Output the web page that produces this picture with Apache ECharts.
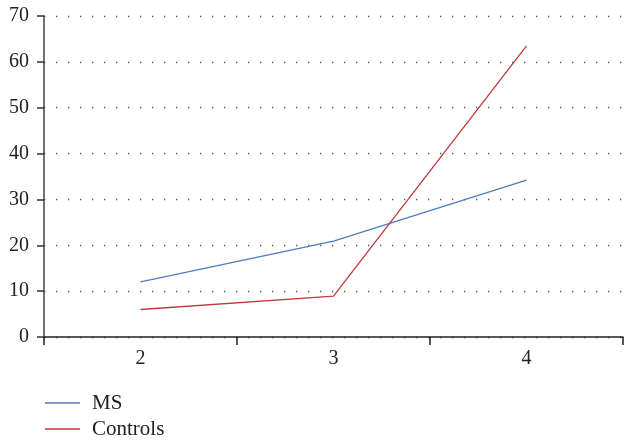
<!DOCTYPE html>
<html><head><meta charset="utf-8">
<script src="https://cdn.jsdelivr.net/npm/echarts@6/dist/echarts.min.js"></script>
<style>html,body{margin:0;padding:0;background:#fff}#c{width:624px;height:441px}</style>
</head><body><div id="c"></div>
<script>
var categories = ['2', '3', '4'];
var msValues = [12, 20.9, 34.2];
var controlValues = [6, 8.9, 63.5];
var seriesNames = ['MS', 'Controls'];
var FONT = 'Liberation Serif';
var BLUE = '#4a7cc4', RED = '#c0393b';
var chart = echarts.init(document.getElementById('c'));
function legItem(name, color, y) {
  return [
    {type: 'line', shape: {x1: 45, y1: y, x2: 80, y2: y},
     style: {stroke: color, lineWidth: 1.4}, silent: true},
    {type: 'text', x: 92, y: y,
     style: {text: name, fill: '#222', font: '21px "' + FONT + '"', textVerticalAlign: 'middle', verticalAlign: 'middle'}}
  ];
}
chart.setOption({
  animation: false,
  backgroundColor: '#fff',
  grid: {left: 44, right: 1, top: 16, bottom: 104, containLabel: false},
  graphic: legItem(seriesNames[0], BLUE, 403).concat(legItem(seriesNames[1], RED, 429)),
  xAxis: {
    type: 'category', data: categories, boundaryGap: true,
    axisLine: {lineStyle: {color: '#222', width: 1.5}},
    axisTick: {show: true, length: 8, lineStyle: {color: '#222', width: 1.5}},
    axisLabel: {fontFamily: FONT, fontSize: 20, color: '#222', margin: 12},
    splitLine: {show: false}
  },
  yAxis: {
    type: 'value', min: 0, max: 70, interval: 10,
    axisLine: {show: true, lineStyle: {color: '#444', width: 1.5}},
    axisTick: {show: true, length: 7, lineStyle: {color: '#333', width: 1.5}},
    axisLabel: {fontFamily: FONT, fontSize: 20, color: '#222', margin: 15},
    splitLine: {show: true, lineStyle: {color: '#555', width: 1.3, type: [1.3, 10.7], dashOffset: -12}}
  },
  series: [
    {name: seriesNames[0], type: 'line', data: msValues, symbol: 'none',
     lineStyle: {color: BLUE, width: 1.3}, itemStyle: {color: BLUE}},
    {name: seriesNames[1], type: 'line', data: controlValues, symbol: 'none',
     lineStyle: {color: RED, width: 1.3}, itemStyle: {color: RED}}
  ]
});
</script></body></html>
